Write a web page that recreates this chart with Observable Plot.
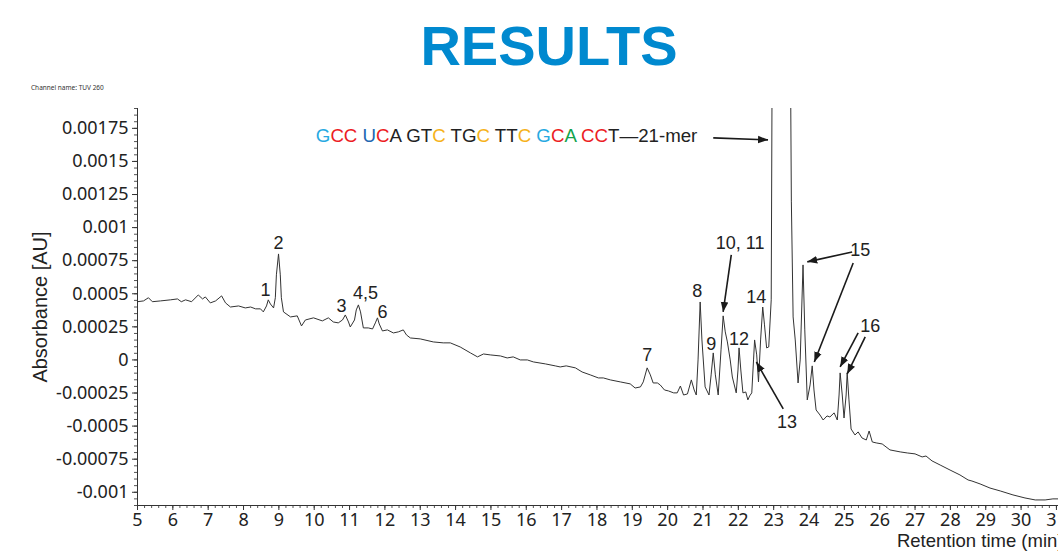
<!DOCTYPE html>
<html>
<head>
<meta charset="utf-8">
<script src="https://cdn.jsdelivr.net/npm/d3@7"></script>
<script src="https://cdn.jsdelivr.net/npm/@observablehq/plot@0.6"></script>
<style>
  html, body { margin: 0; padding: 0; background: #fff; overflow: hidden; }
  #wrap { position: relative; width: 1058px; height: 551px; overflow: hidden; }
  #title { position: absolute; left: 0; top: 13px; width: 1098px; text-align: center; line-height: 56px;
           font: bold 56px "Liberation Sans", Arial, sans-serif; color: #0089cf; }
  #channel { position: absolute; left: 31px; top: 83px; font: 6.5px "Noto Sans", sans-serif; color: #333; white-space: nowrap; }
  #chart { position: absolute; left: 0; top: 0; width: 1080px; }
  #chart svg { max-width: none !important; }
</style>
</head>
<body>
<div id="wrap">
  <div id="chart"></div>
  <div id="title">RESULTS</div>
  <div id="channel">Channel name: TUV 260</div>
</div>
<script>
// ---- Data: chromatogram trace [retention time (min), absorbance (AU)] ----
const trace = [
  [5.00,0.00044],[5.17,0.000446],[5.31,0.00047],[5.42,0.00044],[5.65,0.000446],[5.93,0.000454],
  [6.13,0.000461],[6.24,0.00044],[6.36,0.000454],[6.53,0.00044],[6.72,0.000491],[6.84,0.000461],
  [6.92,0.000476],[7.06,0.000431],[7.21,0.000446],[7.38,0.000484],[7.49,0.000431],[7.63,0.0004],
  [7.86,0.000408],[8.05,0.000393],[8.20,0.0004],[8.34,0.000386],[8.48,0.000386],[8.56,0.000363],
  [8.65,0.000408],[8.70,0.000454],[8.76,0.000423],[8.85,0.000393],[8.90,0.00047],[8.93,0.000643],
  [8.99,0.000801],[9.04,0.000643],[9.07,0.00047],[9.13,0.000363],[9.33,0.000325],[9.52,0.000333],
  [9.64,0.000257],[9.75,0.000302],[9.98,0.000318],[10.23,0.000295],[10.40,0.000318],[10.54,0.000287],
  [10.68,0.00028],[10.80,0.000302],[10.88,0.00034],[10.97,0.000287],[11.02,0.000249],[11.14,0.000302],
  [11.19,0.000378],[11.25,0.000416],[11.31,0.000363],[11.39,0.000242],[11.53,0.000242],[11.65,0.000234],
  [11.73,0.00028],[11.79,0.000318],[11.84,0.000272],[11.93,0.000219],[12.07,0.000227],[12.24,0.000204],
  [12.38,0.000212],[12.52,0.000227],[12.61,0.000189],[12.72,0.000166],[13.00,0.000159],[13.37,0.000136],
  [13.65,0.000129],[13.85,0.000129],[14.13,0.000098],[14.42,0.000053],[14.62,0.000023],[14.79,0.000045],
  [14.98,0.000038],[15.27,0.00003],[15.46,0.000015],[15.63,0.000023],[15.83,0],[16.03,0],
  [16.20,-0.000015],[16.54,-0.00003],[16.82,-0.000045],[16.96,-0.000053],[17.13,-0.000045],[17.39,-0.00006],
  [17.58,-0.000091],[17.81,-0.000113],[18.04,-0.000136],[18.18,-0.000136],[18.38,-0.000151],[18.66,-0.000166],
  [18.94,-0.000181],[19.08,-0.000212],[19.23,-0.000204],[19.31,-0.000166],[19.42,-0.00006],[19.51,-0.000113],
  [19.59,-0.000174],[19.71,-0.000174],[19.79,-0.000189],[19.91,-0.000227],[20.02,-0.000234],[20.17,-0.000249],
  [20.27,-0.000249],[20.36,-0.000197],[20.45,-0.000265],[20.56,-0.000257],[20.67,-0.000151],[20.75,-0.000227],
  [20.81,-0.000265],[20.86,0],[20.92,0.000438],[20.97,0.000151],[21.06,-0.000204],[21.17,-0.000265],
  [21.23,-0.000113],[21.29,0.000053],[21.35,-0.000113],[21.43,-0.000265],[21.51,0.000076],[21.57,0.000333],
  [21.63,0.000212],[21.69,0.000136],[21.77,0],[21.83,-0.000129],[21.94,-0.000249],[21.99,-0.000076],
  [22.02,0.000091],[22.07,-0.000076],[22.13,-0.000249],[22.21,-0.000242],[22.27,-0.000302],[22.32,-0.000272],
  [22.38,-0.000249],[22.43,0],[22.46,0.000151],[22.52,0.000038],[22.57,-0.000166],[22.63,0.000151],
  [22.69,0.0004],[22.74,0.000265],[22.80,0.000091],[22.86,0.000098],[22.93,0.000454],[22.96,0.0025],
  [23.10,0.0045],[23.30,0.0045],[23.47,0.0025],[23.50,0.0012],[23.55,0.000325],[23.61,0.000151],
  [23.69,-0.000174],[23.75,0],[23.83,0.000718],[23.88,0.000227],[23.95,-0.000302],[24.03,-0.000189],
  [24.09,-0.000045],[24.14,-0.000227],[24.20,-0.000378],[24.31,-0.000416],[24.40,-0.000454],[24.51,-0.000423],
  [24.59,-0.000431],[24.71,-0.0004],[24.80,-0.000454],[24.85,-0.000265],[24.88,-0.000098],[24.94,-0.000265],
  [24.99,-0.000439],[25.05,-0.000265],[25.08,-0.000098],[25.13,-0.000302],[25.19,-0.000522],[25.30,-0.000567],
  [25.39,-0.000544],[25.50,-0.00059],[25.62,-0.000605],[25.70,-0.000537],[25.79,-0.00062],[25.90,-0.000627],
  [26.07,-0.000635],[26.29,-0.00068],[26.58,-0.000695],[26.78,-0.000703],[27.00,-0.00071],[27.20,-0.000733],
  [27.31,-0.000726],[27.48,-0.000763],[27.71,-0.000794],[27.99,-0.000832],[28.27,-0.000869],[28.50,-0.000907],
  [28.61,-0.000915],[28.84,-0.000937],[29.12,-0.000968],[29.41,-0.00099],[29.77,-0.00102],[30.11,-0.001043],
  [30.40,-0.001058],[30.68,-0.001058],[30.90,-0.00105],[31.05,-0.00105]
];

// Peak labels: [label, time, absorbance]
const peakLabels = [
  ["1", 8.62, 0.000529], ["2", 8.99, 0.000885], ["3", 10.77, 0.000408], ["4,5", 11.45, 0.000507],
  ["6", 11.93, 0.000363], ["7", 19.42, 0.000038], ["8", 20.84, 0.000522], ["9", 21.23, 0.000121],
  ["10, 11", 22.05, 0.000885], ["12", 22.02, 0.000159], ["13", 23.38, -0.000469], ["14", 22.51, 0.000476],
  ["15", 25.45, 0.000832], ["16", 25.73, 0.000257]
];

// Annotation arrows: [t1, v1, t2, v2]
const arrows = [
  [21.29, 0.001678, 22.84, 0.001663],
  [21.80, 0.000794, 21.57, 0.000363],
  [25.22, 0.000816, 23.95, 0.000741],
  [25.25, 0.000733, 24.15, -0.000015],
  [25.39, 0.000204, 24.88, -0.000053],
  [25.59, 0.000174, 25.08, -0.000106],
  [23.27, -0.00037, 22.51, -0.000015]
];

// Sequence annotation: spans from t = 10.06 to t = 20.87 at the given absorbance
const seqSpan = [10.06, 20.87];
const seqLevel = 0.001693;
const seqParts = ["G","CC"," ","U","C","A GT","C"," TG","C"," TT","C"," ","G","C","A"," ","CC","T\u201421-mer"];
const seqColors = ["#27a9e1","#ec1c24","#222","#2167b1","#ec1c24","#222","#f6b21a","#222","#f6b21a","#222","#f6b21a","#222","#27a9e1","#ec1c24","#12a24b","#222","#ec1c24","#222"];

// Axis ticks
const yTicks = [-0.001, -0.00075, -0.0005, -0.00025, 0, 0.00025, 0.0005, 0.00075, 0.001, 0.00125, 0.0015, 0.00175];
const xTicks = [5,6,7,8,9,10,11,12,13,14,15,16,17,18,19,20,21,22,23,24,25,26,27,28,29,30,31];
const yMinor = d3.range(-22, 39).map(i => i * 0.00005);
const xMinor = d3.range(25, 157).map(i => i * 0.2);

const rows = trace.map(([t, v]) => ({t, v}));
const labelRows = peakLabels.map(([label, t, v]) => ({label, t, v}));
const arrowRows = arrows.map(([t1, v1, t2, v2]) => ({t1, v1, t2, v2}));

function triMarker(color, context) {
  const doc = (context && context.document) || document;
  const ns = "http://www.w3.org/2000/svg";
  const m = doc.createElementNS(ns, "marker");
  m.setAttribute("viewBox", "-10 -5 10 10");
  m.setAttribute("markerWidth", "10");
  m.setAttribute("markerHeight", "10");
  m.setAttribute("markerUnits", "userSpaceOnUse");
  m.setAttribute("orient", "auto");
  m.setAttribute("refX", "0");
  m.setAttribute("refY", "0");
  const p = doc.createElementNS(ns, "path");
  p.setAttribute("d", "M-10,-3.8L0,0L-10,3.8Z");
  p.setAttribute("fill", color);
  p.setAttribute("stroke", "none");
  m.appendChild(p);
  return m;
}

const fmt = d => d === 0 ? "0" : String(+d.toPrecision(6));
const ARIAL = "'Liberation Sans', Arial, sans-serif";

function build(marker) {
  return Plot.plot({
    width: 1080,
    height: 551,
    marginLeft: 137,
    marginRight: 17,
    marginTop: 108,
    marginBottom: 46,
    style: {fontFamily: "'Noto Sans', sans-serif", fontSize: "18px", color: "#222", background: "transparent", maxWidth: "none"},
    x: {domain: [5, 31.2]},
    y: {domain: [-0.0011, 0.0019]},
    marks: [
      Plot.axisY({ticks: yMinor, tickSize: 3, tickFormat: () => "", label: null, stroke: "#555"}),
      Plot.axisY({ticks: yTicks, tickSize: 5, tickPadding: 4, tickFormat: fmt, label: null, stroke: "#333"}),
      Plot.axisX({ticks: xMinor, tickSize: 3, tickFormat: () => "", label: null, stroke: "#555"}),
      Plot.axisX({ticks: xTicks, tickSize: 5, tickPadding: 3, tickFormat: d => String(d), label: null, stroke: "#333"}),
      Plot.ruleX([5], {stroke: "#333", strokeWidth: 1}),
      Plot.ruleY([-0.0011], {stroke: "#333", strokeWidth: 1}),
      Plot.line(rows, {x: "t", y: "v", stroke: "#333", strokeWidth: 1, clip: true}),
      Plot.link(arrowRows, {x1: "t1", y1: "v1", x2: "t2", y2: "v2", stroke: "#1a1a1a", strokeWidth: 1.6, markerEnd: marker}),
      Plot.text(labelRows, {x: "t", y: "v", text: "label", fontSize: 18, fontFamily: ARIAL, fill: "#222"}),
      Plot.text(["Absorbance [AU]"], {frameAnchor: "left", textAnchor: "middle", rotate: -90, dx: -97, fontSize: 20, fontFamily: ARIAL, fill: "#222"}),
      Plot.text(["Retention time (min)"], {frameAnchor: "bottom-right", textAnchor: "end", dy: 41, fontSize: 18.5, fontFamily: ARIAL, fill: "#222"})
    ]
  });
}

let chart;
try { chart = build(triMarker); } catch (e) { chart = build("arrow"); }
chart.style.maxWidth = "none";
chart.style.width = "1080px";
chart.style.height = "551px";
document.getElementById("chart").appendChild(chart);

const xs = chart.scale("x"), ys = chart.scale("y");
const x0 = xs.apply(seqSpan[0]), x1 = xs.apply(seqSpan[1]);
const txt = d3.select(chart).append("text")
  .attr("x", x0)
  .attr("y", ys.apply(seqLevel))
  .attr("dy", "0.35em")
  .attr("text-anchor", "start")
  .style("font-family", ARIAL)
  .style("font-size", "20px");
seqParts.forEach((s, i) => txt.append("tspan").attr("fill", seqColors[i]).text(s));
const w = txt.node().getComputedTextLength();
if (w > 0) txt.style("font-size", (20 * (x1 - x0) / w).toFixed(2) + "px");
</script>
</body>
</html>
